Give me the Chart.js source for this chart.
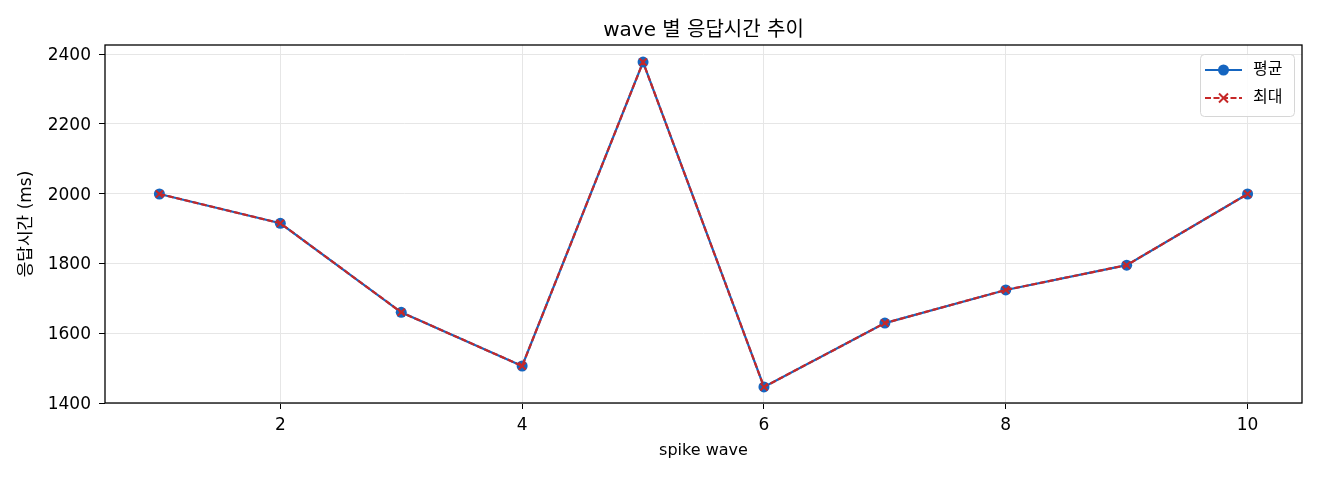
<!DOCTYPE html>
<html>
<head>
<meta charset="utf-8">
<script src="https://cdn.jsdelivr.net/npm/chart.js@4/dist/chart.umd.min.js"></script>
<style>
html,body{margin:0;padding:0;background:#fff;}
#wrap{width:1320px;height:480px;position:relative;}
</style>
</head>
<body>
<div id="wrap"><canvas id="c" width="1320" height="480"></canvas></div>
<script>
const waves = [1, 2, 3, 4, 5, 6, 7, 8, 9, 10];
const avgMs = [1999, 1915, 1660, 1506, 2377, 1446, 1629, 1724, 1795, 1999];
const maxMs = [1999, 1915, 1660, 1506, 2377, 1446, 1629, 1724, 1795, 1999];
const xTicks = [2, 4, 6, 8, 10];
const yTicks = [1400, 1600, 1800, 2000, 2200, 2400];
const seriesLabels = ['평균', '최대'];
const titleText = 'wave 별 응답시간 추이';
const xTitle = 'spike wave';
const yTitle = '응답시간 (ms)';

const FONT = '"DejaVu Sans", "Noto Sans CJK KR", sans-serif';
const BLUE = '#1565C0';
const RED = '#C62828';

const toPts = arr => waves.map((w, i) => ({x: w, y: arr[i]}));

const framePlugin = {
  id: 'frame',
  afterDraw(chart) {
    const {ctx, chartArea: a} = chart;
    ctx.save();
    ctx.strokeStyle = '#000';
    ctx.lineWidth = 1.3;
    ctx.strokeRect(a.left, a.top, a.right - a.left, a.bottom - a.top);
    // legend
    const bx = 1200, by = 54, bw = 94, bh = 62, r = 4;
    ctx.fillStyle = 'rgba(255,255,255,0.85)';
    ctx.strokeStyle = '#d6d6d6';
    ctx.lineWidth = 1;
    ctx.beginPath();
    ctx.roundRect(bx + 0.5, by + 0.5, bw, bh, r);
    ctx.fill();
    ctx.stroke();
    const rows = [
      {y: 70, color: BLUE, dash: [], marker: 'circle', label: chart.data.datasets[1].label},
      {y: 98, color: RED, dash: [6, 2.5], marker: 'x', label: chart.data.datasets[0].label}
    ];
    rows.forEach(rw => {
      ctx.strokeStyle = rw.color;
      ctx.lineWidth = 2.2;
      ctx.setLineDash(rw.dash);
      ctx.beginPath();
      ctx.moveTo(1205, rw.y);
      ctx.lineTo(1242, rw.y);
      ctx.stroke();
      ctx.setLineDash([]);
      const cx = 1223.5;
      if (rw.marker === 'circle') {
        ctx.fillStyle = rw.color;
        ctx.beginPath();
        ctx.arc(cx, rw.y, 5.5, 0, Math.PI * 2);
        ctx.fill();
      } else {
        ctx.lineWidth = 2;
        ctx.beginPath();
        ctx.moveTo(cx - 4.5, rw.y - 4.5); ctx.lineTo(cx + 4.5, rw.y + 4.5);
        ctx.moveTo(cx - 4.5, rw.y + 4.5); ctx.lineTo(cx + 4.5, rw.y - 4.5);
        ctx.stroke();
      }
      ctx.fillStyle = '#000';
      ctx.font = '16px ' + FONT;
      ctx.textAlign = 'left';
      ctx.textBaseline = 'middle';
      ctx.fillText(rw.label, 1253, rw.y);
    });
    ctx.restore();
  }
};

new Chart(document.getElementById('c'), {
  type: 'line',
  data: {
    datasets: [
      {
        label: seriesLabels[1],
        data: toPts(maxMs),
        borderColor: RED,
        backgroundColor: RED,
        borderWidth: 2.2,
        borderDash: [6, 2.5],
        pointStyle: 'crossRot',
        pointRadius: 5,
        pointBorderWidth: 2,
        pointBorderColor: RED,
        order: 0,
        tension: 0
      },
      {
        label: seriesLabels[0],
        data: toPts(avgMs),
        borderColor: BLUE,
        backgroundColor: BLUE,
        borderWidth: 2.2,
        pointStyle: 'circle',
        pointRadius: 5.5,
        pointBorderWidth: 0,
        order: 1,
        tension: 0
      }
    ]
  },
  options: {
    responsive: false,
    animation: false,
    devicePixelRatio: 1,
    layout: {padding: {top: 0, left: 0, right: 18, bottom: 0}},
    plugins: {
      legend: {display: false},
      tooltip: {enabled: false},
      title: {
        display: true,
        text: titleText,
        fullSize: false,
        color: '#000',
        font: {family: FONT, size: 20, weight: 'normal', lineHeight: 1.2},
        padding: {top: 18.5, bottom: 2.5}
      }
    },
    scales: {
      x: {
        type: 'linear',
        min: 0.55,
        max: 10.45,
        afterBuildTicks: s => { s.ticks = xTicks.map(v => ({value: v})); },
        afterFit: s => { s.height = 77; },
        grid: {color: '#e6e6e6', lineWidth: 1, tickLength: 6, tickColor: '#000', drawOnChartArea: true},
        border: {display: false},
        ticks: {color: '#000', padding: 6, font: {family: FONT, size: 17}, maxRotation: 0, callback: v => String(v)},
        title: {display: true, text: xTitle, color: '#000', font: {family: FONT, size: 16, lineHeight: 1.2}, padding: {top: 0, bottom: 19.5}}
      },
      y: {
        type: 'linear',
        min: 1400,
        max: 2426,
        afterBuildTicks: s => { s.ticks = yTicks.map(v => ({value: v})); },
        afterFit: s => { s.width = 105; },
        grid: {color: '#e6e6e6', lineWidth: 1, tickLength: 6, tickColor: '#000', drawOnChartArea: true},
        border: {display: false},
        ticks: {color: '#000', padding: 8, labelOffset: 1.5, font: {family: FONT, size: 17}, callback: v => String(v)},
        title: {display: true, text: yTitle, color: '#000', font: {family: FONT, size: 17, lineHeight: 1.2}, padding: {top: 16, bottom: 0}}
      }
    }
  },
  plugins: [framePlugin]
});
</script>
</body>
</html>
